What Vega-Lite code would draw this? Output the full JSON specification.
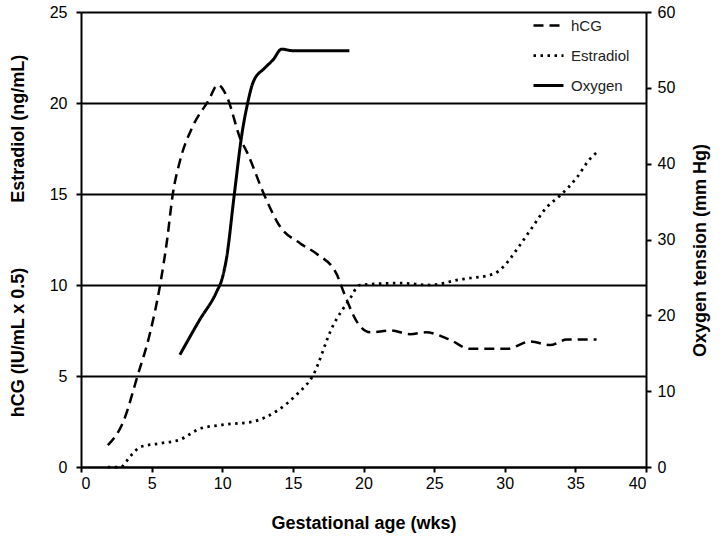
{
  "$schema": "https://vega.github.io/schema/vega-lite/v6.json",
  "width": 565,
  "height": 455,
  "autosize": {"type": "none"},
  "padding": {"left": 81, "top": 12, "right": 77, "bottom": 76},
  "background": "white",
  "config": {
    "view": {"stroke": null},
    "font": "Liberation Sans",
    "axis": {
      "labelFont": "Liberation Sans",
      "labelFontSize": 16,
      "labelColor": "#000",
      "titleFont": "Liberation Sans",
      "titleFontSize": 18,
      "titleFontWeight": "bold",
      "titleColor": "#000",
      "domainColor": "#000",
      "domainWidth": 2,
      "tickColor": "#000",
      "tickWidth": 2,
      "tickSize": 5
    }
  },
  "datasets": {
    "hormones": [
      {"series": "hCG", "week": 1.9, "value": 1.2},
      {"series": "hCG", "week": 3.0, "value": 2.5},
      {"series": "hCG", "week": 4.0, "value": 5.0},
      {"series": "hCG", "week": 4.9, "value": 7.4},
      {"series": "hCG", "week": 5.6, "value": 10.0},
      {"series": "hCG", "week": 6.1, "value": 12.5},
      {"series": "hCG", "week": 6.5, "value": 15.0},
      {"series": "hCG", "week": 7.0, "value": 16.8},
      {"series": "hCG", "week": 7.9, "value": 18.7},
      {"series": "hCG", "week": 9.0, "value": 20.1},
      {"series": "hCG", "week": 9.7, "value": 21.0},
      {"series": "hCG", "week": 10.3, "value": 20.4},
      {"series": "hCG", "week": 11.3, "value": 18.0},
      {"series": "hCG", "week": 11.75, "value": 17.3},
      {"series": "hCG", "week": 13.0, "value": 14.9},
      {"series": "hCG", "week": 14.1, "value": 13.2},
      {"series": "hCG", "week": 15.5, "value": 12.3},
      {"series": "hCG", "week": 16.7, "value": 11.7},
      {"series": "hCG", "week": 18.1, "value": 10.6},
      {"series": "hCG", "week": 18.6, "value": 9.6},
      {"series": "hCG", "week": 19.6, "value": 7.9},
      {"series": "hCG", "week": 20.5, "value": 7.4},
      {"series": "hCG", "week": 21.9, "value": 7.5},
      {"series": "hCG", "week": 23.3, "value": 7.3},
      {"series": "hCG", "week": 24.4, "value": 7.4},
      {"series": "hCG", "week": 26.1, "value": 7.0},
      {"series": "hCG", "week": 27.5, "value": 6.5},
      {"series": "hCG", "week": 28.7, "value": 6.5},
      {"series": "hCG", "week": 30.2, "value": 6.5},
      {"series": "hCG", "week": 31.8, "value": 6.9},
      {"series": "hCG", "week": 33.2, "value": 6.7},
      {"series": "hCG", "week": 34.4, "value": 7.0},
      {"series": "hCG", "week": 36.5, "value": 7.0},
      {"series": "Estradiol", "week": 1.9, "value": 0.0},
      {"series": "Estradiol", "week": 2.8, "value": 0.0},
      {"series": "Estradiol", "week": 3.5, "value": 0.6},
      {"series": "Estradiol", "week": 4.2, "value": 1.1},
      {"series": "Estradiol", "week": 5.6, "value": 1.3},
      {"series": "Estradiol", "week": 7.0, "value": 1.5},
      {"series": "Estradiol", "week": 8.4, "value": 2.1},
      {"series": "Estradiol", "week": 9.8, "value": 2.3},
      {"series": "Estradiol", "week": 12.2, "value": 2.5},
      {"series": "Estradiol", "week": 13.9, "value": 3.1},
      {"series": "Estradiol", "week": 15.3, "value": 4.0},
      {"series": "Estradiol", "week": 16.4, "value": 5.0},
      {"series": "Estradiol", "week": 17.8, "value": 7.7},
      {"series": "Estradiol", "week": 19.0, "value": 9.2},
      {"series": "Estradiol", "week": 19.75, "value": 10.0},
      {"series": "Estradiol", "week": 22.6, "value": 10.1},
      {"series": "Estradiol", "week": 24.7, "value": 10.0},
      {"series": "Estradiol", "week": 26.8, "value": 10.3},
      {"series": "Estradiol", "week": 29.2, "value": 10.6},
      {"series": "Estradiol", "week": 29.9, "value": 11.0},
      {"series": "Estradiol", "week": 30.9, "value": 12.0},
      {"series": "Estradiol", "week": 31.8, "value": 13.0},
      {"series": "Estradiol", "week": 33.0, "value": 14.3},
      {"series": "Estradiol", "week": 33.9, "value": 14.9},
      {"series": "Estradiol", "week": 35.1, "value": 15.9},
      {"series": "Estradiol", "week": 36.0, "value": 16.9},
      {"series": "Estradiol", "week": 36.7, "value": 17.4}
    ],
    "oxygen": [
      {"series": "Oxygen", "week": 7.0, "tension": 14.8},
      {"series": "Oxygen", "week": 8.4, "tension": 19.4},
      {"series": "Oxygen", "week": 9.6, "tension": 23.1},
      {"series": "Oxygen", "week": 10.0, "tension": 24.9},
      {"series": "Oxygen", "week": 10.3, "tension": 27.5},
      {"series": "Oxygen", "week": 10.85, "tension": 35.9},
      {"series": "Oxygen", "week": 11.4, "tension": 44.0},
      {"series": "Oxygen", "week": 11.8, "tension": 48.0},
      {"series": "Oxygen", "week": 12.2, "tension": 50.8},
      {"series": "Oxygen", "week": 13.0, "tension": 52.6},
      {"series": "Oxygen", "week": 13.6, "tension": 53.7},
      {"series": "Oxygen", "week": 14.2, "tension": 55.1},
      {"series": "Oxygen", "week": 15.0, "tension": 54.9},
      {"series": "Oxygen", "week": 19.0, "tension": 54.9}
    ]
  },
  "layer": [
    {
      "data": {"name": "hormones"},
      "mark": {"type": "line", "interpolate": "monotone", "color": "#000"},
      "encoding": {
        "x": {
          "field": "week", "type": "quantitative",
          "scale": {"domain": [0, 40]},
          "axis": {"values": [0, 5, 10, 15, 20, 25, 30, 35, 40], "title": "Gestational age (wks)", "grid": false, "labelPadding": 3, "titleY": 56, "titleBaseline": "middle"}
        },
        "y": {
          "field": "value", "type": "quantitative",
          "scale": {"domain": [0, 25]},
          "axis": {
            "orient": "left",
            "values": [0, 5, 10, 15, 20, 25],
            "grid": true, "gridColor": "#000", "gridWidth": 2, "gridOpacity": 1,
            "labelPadding": 9,
            "title": "hCG (IU/mL x 0.5)\u00a0\u00a0\u00a0\u00a0\u00a0\u00a0\u00a0\u00a0\u00a0\u00a0\u00a0\u00a0\u00a0Estradiol (ng/mL)",
            "titleX": -63, "titleY": 223.5, "titleAngle": -90, "titleBaseline": "middle", "titleAlign": "center"
          }
        },
        "strokeDash": {
          "field": "series", "type": "nominal",
          "scale": {"domain": ["hCG", "Estradiol", "Oxygen"], "range": [[10, 6], [2.5, 4.5], [1, 0]]},
          "legend": {"orient": "none", "legendX": 451, "legendY": -3, "title": null, "symbolType": "stroke", "symbolSize": 900, "symbolStrokeColor": "#000", "labelFont": "Liberation Sans", "labelFontSize": 15, "labelColor": "#222", "rowPadding": 5, "labelOffset": 6, "padding": 0}
        },
        "strokeWidth": {
          "field": "series", "type": "nominal",
          "scale": {"domain": ["hCG", "Estradiol", "Oxygen"], "range": [2.5, 3, 3.5]},
          "legend": {"orient": "none", "legendX": 451, "legendY": -3, "title": null, "symbolType": "stroke", "symbolSize": 900, "symbolStrokeColor": "#000", "labelFont": "Liberation Sans", "labelFontSize": 15, "labelColor": "#222", "rowPadding": 5, "labelOffset": 6, "padding": 0}
        }
      }
    },
    {
      "data": {"name": "oxygen"},
      "mark": {"type": "line", "interpolate": "monotone", "color": "#000"},
      "encoding": {
        "x": {
          "field": "week", "type": "quantitative",
          "scale": {"domain": [0, 40]},
          "axis": {"values": [0, 5, 10, 15, 20, 25, 30, 35, 40], "title": "Gestational age (wks)", "grid": false, "labelPadding": 3, "titleY": 56, "titleBaseline": "middle"}
        },
        "y": {
          "field": "tension", "type": "quantitative",
          "scale": {"domain": [0, 60]},
          "axis": {
            "orient": "right",
            "values": [0, 10, 20, 30, 40, 50, 60],
            "grid": false,
            "labelPadding": 6,
            "title": "Oxygen tension (mm Hg)",
            "titleX": 54, "titleY": 238, "titleAngle": -90, "titleBaseline": "middle", "titleAlign": "center"
          }
        },
        "strokeDash": {"field": "series", "type": "nominal", "scale": {"domain": ["hCG", "Estradiol", "Oxygen"], "range": [[10, 6], [2.5, 4.5], [1, 0]]}},
        "strokeWidth": {"field": "series", "type": "nominal", "scale": {"domain": ["hCG", "Estradiol", "Oxygen"], "range": [2.5, 3, 3.5]}}
      }
    }
  ],
  "resolve": {"scale": {"y": "independent"}}
}
